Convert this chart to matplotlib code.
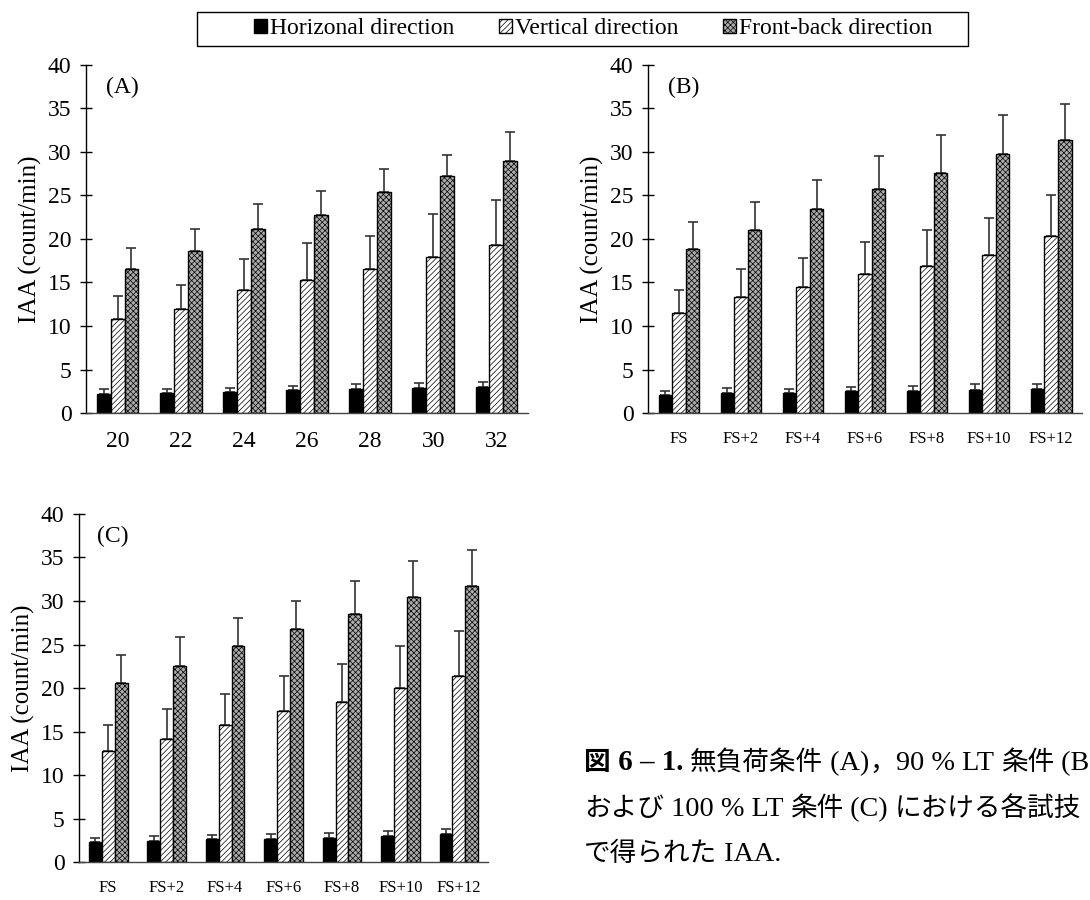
import numpy as np
import matplotlib
matplotlib.use("Agg")
import matplotlib.pyplot as plt
from matplotlib.patches import Rectangle

plt.rcParams['font.family'] = ['Liberation Serif', 'Noto Sans CJK JP']
plt.rcParams['hatch.linewidth'] = 0.5

series_names = ["Horizonal direction", "Vertical direction", "Front-back direction"]

cats_a = ["20", "22", "24", "26", "28", "30", "32"]
cats_bc = ["FS", "FS+2", "FS+4", "FS+6", "FS+8", "FS+10", "FS+12"]

# (A) no load
a_horiz = [2.15, 2.34, 2.45, 2.62, 2.76, 2.83, 2.95]
a_horiz_sd = [0.6, 0.46, 0.45, 0.5, 0.54, 0.67, 0.61]
a_vert = [10.77, 11.9, 14.1, 15.3, 16.5, 17.9, 19.3]
a_vert_sd = [2.72, 2.85, 3.55, 4.2, 3.9, 5.0, 5.2]
a_front = [16.55, 18.6, 21.15, 22.8, 25.4, 27.2, 29.0]
a_front_sd = [2.45, 2.55, 2.9, 2.7, 2.7, 2.5, 3.3]

# (B) 90 % LT
b_horiz = [2.03, 2.34, 2.34, 2.49, 2.49, 2.69, 2.8]
b_horiz_sd = [0.54, 0.54, 0.46, 0.46, 0.58, 0.61, 0.58]
b_vert = [11.5, 13.35, 14.54, 16.0, 16.84, 18.14, 20.37]
b_vert_sd = [2.65, 3.15, 3.3, 3.64, 4.16, 4.3, 4.73]
b_front = [18.83, 21.0, 23.44, 25.8, 27.54, 29.77, 31.38]
b_front_sd = [3.07, 3.24, 3.3, 3.7, 4.41, 4.43, 4.14]

# (C) 100 % LT
c_horiz = [2.3, 2.42, 2.6, 2.68, 2.8, 2.99, 3.18]
c_horiz_sd = [0.5, 0.53, 0.47, 0.58, 0.54, 0.54, 0.66]
c_vert = [12.73, 14.15, 15.76, 17.37, 18.37, 20.02, 21.4]
c_vert_sd = [3.07, 3.38, 3.53, 4.03, 4.41, 4.83, 5.2]
c_front = [20.56, 22.55, 24.81, 26.73, 28.5, 30.45, 31.72]
c_front_sd = [3.18, 3.34, 3.19, 3.22, 3.79, 4.15, 4.14]

styles = [
    dict(facecolor='black', hatch=None),
    dict(facecolor='white', hatch='//////'),
    dict(facecolor='#acacac', hatch='xxxxxx'),
]


def panel(ax, cats, groups, label, xfont):
    x = np.arange(len(cats))
    w = 0.22
    handles = []
    for k, (vals, sds) in enumerate(groups):
        st = styles[k]
        pos = x + (k - 1) * w
        h = ax.bar(pos, vals, w, facecolor=st['facecolor'], hatch=st['hatch'],
                   edgecolor='black', linewidth=1.0, zorder=2)
        ax.errorbar(pos, vals, yerr=[np.zeros(len(vals)), sds], fmt='none',
                    ecolor='#333333', elinewidth=1.2, capsize=3.5,
                    capthick=1.2, zorder=1)
        handles.append(h)
    ax.set_xlim(-0.5, len(cats) - 0.5)
    ax.set_ylim(0, 40)
    ax.set_yticks(range(0, 41, 5))
    ax.set_xticks(x)
    ax.set_xticklabels(cats, fontsize=xfont)
    ax.tick_params(axis='y', direction='inout', length=9, width=1,
                   labelsize=17, pad=6)
    ax.tick_params(axis='x', length=0, pad=13)
    for s in ['top', 'right']:
        ax.spines[s].set_visible(False)
    ax.spines['left'].set_linewidth(1.0)
    ax.spines['bottom'].set_linewidth(1.0)
    ax.spines['bottom'].set_color('#444444')
    ax.set_ylabel("IAA (count/min)", fontsize=18, labelpad=4)
    ax.text(0.045, 0.965, label, transform=ax.transAxes, fontsize=17,
            va='top', ha='left')
    return handles


fig = plt.figure(figsize=(10.9, 9), dpi=100)
ax_a = fig.add_axes([0.0789, 0.5411, 0.4055, 0.3867])
ax_b = fig.add_axes([0.5945, 0.5411, 0.3982, 0.3867])
ax_c = fig.add_axes([0.0725, 0.0422, 0.3752, 0.3867])

hs = panel(ax_a, cats_a, [(a_horiz, a_horiz_sd), (a_vert, a_vert_sd),
                          (a_front, a_front_sd)], "(A)", 17)
panel(ax_b, cats_bc, [(b_horiz, b_horiz_sd), (b_vert, b_vert_sd),
                      (b_front, b_front_sd)], "(B)", 12)
panel(ax_c, cats_bc, [(c_horiz, c_horiz_sd), (c_vert, c_vert_sd),
                      (c_front, c_front_sd)], "(C)", 12)

# legend with its own wide frame
fig.patches.append(Rectangle((197 / 1090, 1 - 46 / 900), 771 / 1090, 34 / 900,
                             transform=fig.transFigure, facecolor='white',
                             edgecolor='black', linewidth=1.0, zorder=0))
fig.legend(hs, series_names, loc='center', ncol=3,
           bbox_to_anchor=(593 / 1090, 1 - 29 / 900), fontsize=17,
           frameon=False, handlelength=0.55, handleheight=0.55,
           handletextpad=0.12, columnspacing=1.9, borderpad=0.2)

# caption: Japanese runs and Latin runs set at their own sizes, one after another
JP = ['Noto Sans CJK JP']
LAT = ['Liberation Serif', 'Noto Sans CJK JP']
jp_fs, lat_fs = 19.2, 20.3
caption_lines = [
    [("図", JP, jp_fs, 'bold'), (" 6 – 1.", LAT, lat_fs + 0.5, 'bold'),
     (" ", LAT, lat_fs, 'normal'),
     ("無負荷条件", JP, jp_fs, 'normal'), (" (A)", LAT, lat_fs, 'normal'),
     ("，", JP, jp_fs, 'normal'), ("90 % LT ", LAT, lat_fs, 'normal'),
     ("条件", JP, jp_fs, 'normal'), (" (B)", LAT, lat_fs, 'normal')],
    [("および", JP, jp_fs, 'normal'), (" 100 % LT ", LAT, lat_fs, 'normal'),
     ("条件", JP, jp_fs, 'normal'), (" (C) ", LAT, lat_fs, 'normal'),
     ("における各試技", JP, jp_fs, 'normal')],
    [("で得られた", JP, jp_fs, 'normal'), (" IAA.", LAT, lat_fs, 'normal')],
]
line_baseline = [770, 816, 861]

renderer = fig.canvas.get_renderer()
for segs, yp in zip(caption_lines, line_baseline):
    xp = 584.0
    for txt, fam, fs, wt in segs:
        t = fig.text(xp / 1090, 1 - yp / 900, txt, family=fam,
                     fontsize=fs, fontweight=wt, va='baseline', ha='left')
        xp += t.get_window_extent(renderer).width

fig.savefig("out.png", dpi=100, facecolor='white')
